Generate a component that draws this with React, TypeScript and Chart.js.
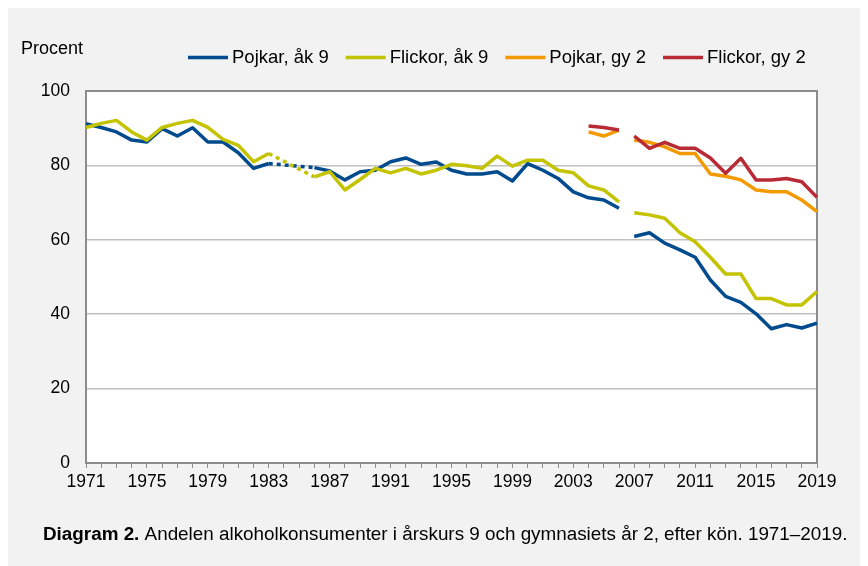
import React, { useEffect, useRef } from 'react';
import { Chart, registerables } from 'chart.js';

Chart.register(...registerables);

const years = [
  '1971', '1972', '1973', '1974', '1975', '1976', '1977', '1978', '1979', '1980',
  '1981', '1982', '1983', '1984', '1985', '1986', '1987', '1988', '1989', '1990',
  '1991', '1992', '1993', '1994', '1995', '1996', '1997', '1998', '1999', '2000',
  '2001', '2002', '2003', '2004', '2005', '2006', '2007', '2008', '2009', '2010',
  '2011', '2012', '2013', '2014', '2015', '2016', '2017', '2018', '2019',
];

const pojkarAk9 = [
  91.2, 90.2, 89.0, 86.8, 86.3, 89.9, 87.9, 90.1, 86.3, 86.3,
  83.4, 79.2, 80.5, null, null, 79.4, 78.5, 76.1, 78.3, 78.7,
  81.0, 82.0, 80.3, 80.9, 78.7, 77.7, 77.7, 78.3, 75.8, 80.5,
  78.7, 76.5, 72.9, 71.3, 70.7, 68.5, 60.9, 61.9, 59.1, 57.3,
  55.3, 49.2, 44.8, 43.2, 40.1, 36.1, 37.2, 36.3, 37.6,
];

const flickorAk9 = [
  90.2, 91.3, 92.1, 89.0, 86.8, 90.2, 91.3, 92.1, 90.2, 87.0,
  85.4, 81.0, 83.2, null, null, 76.9, 78.3, 73.4, 76.2, 79.2,
  78.0, 79.2, 77.7, 78.7, 80.3, 79.9, 79.2, 82.5, 79.8, 81.4,
  81.4, 78.7, 78.0, 74.5, 73.4, 70.2, 67.3, 66.7, 65.8, 61.9,
  59.5, 55.3, 50.8, 50.8, 44.2, 44.2, 42.5, 42.5, 46.1,
];

const pojkarGy2 = [
  null, null, null, null, null, null, null, null, null, null,
  null, null, null, null, null, null, null, null, null, null,
  null, null, null, null, null, null, null, null, null, null,
  null, null, null, 89.0, 87.9, 89.5, 86.8, 86.2, 85.0, 83.2,
  83.2, 77.7, 77.1, 76.1, 73.4, 72.9, 72.9, 70.7, 67.6,
];

const flickorGy2 = [
  null, null, null, null, null, null, null, null, null, null,
  null, null, null, null, null, null, null, null, null, null,
  null, null, null, null, null, null, null, null, null, null,
  null, null, null, 90.6, 90.2, 89.5, 87.9, 84.6, 86.2, 84.6,
  84.6, 82.0, 77.9, 81.9, 76.1, 76.1, 76.5, 75.6, 71.4,
];

const seriesLabels = ['Pojkar, åk 9', 'Flickor, åk 9', 'Pojkar, gy 2', 'Flickor, gy 2'];
const seriesColors = ['#004b8d', '#c3c300', '#f39a00', '#b82a34'];
const seriesData = [pojkarAk9, flickorAk9, pojkarGy2, flickorGy2];

const breakYear = '2006';
const yAxisTitle = 'Procent';
const captionBold = 'Diagram 2.';
const captionText = ' Andelen alkoholkonsumenter i årskurs 9 och gymnasiets år 2, efter kön. 1971–2019.';

const FONT = '"Liberation Sans", Arial, sans-serif';
const FS = 17.5;
const FS_TEXT = 18.5;
const FS_CAPTION = 18.85;

const decorPlugin = {
  id: 'decor',
  beforeDraw(chart: any) {
    const { ctx, chartArea: a } = chart;
    ctx.save();
    ctx.fillStyle = '#f2f2f2';
    ctx.fillRect(0, 0, chart.width, chart.height);
    ctx.fillStyle = '#ffffff';
    ctx.fillRect(a.left, a.top, a.right - a.left, a.bottom - a.top);
    ctx.restore();
  },
  beforeDatasetsDraw(chart: any) {
    const { ctx, chartArea: a } = chart;
    ctx.save();
    ctx.strokeStyle = '#8c8c8c';
    ctx.lineWidth = 2;
    ctx.strokeRect(a.left, a.top, a.right - a.left, a.bottom - a.top);
    ctx.restore();
  },
  afterDraw(chart: any) {
    const { ctx } = chart;
    ctx.save();
    ctx.fillStyle = '#000000';
    ctx.textBaseline = 'middle';
    ctx.font = `18px ${FONT}`;
    ctx.fillText(yAxisTitle, 13, 41);

    // legend
    ctx.font = `${FS_TEXT}px ${FONT}`;
    let x = 180;
    const ly = 49.5;
    seriesLabels.forEach((lab, i) => {
      ctx.strokeStyle = seriesColors[i];
      ctx.lineWidth = 3.5;
      ctx.beginPath();
      ctx.moveTo(x, ly);
      ctx.lineTo(x + 40, ly);
      ctx.stroke();
      x += 44;
      ctx.fillStyle = '#000000';
      ctx.fillText(lab, x, ly);
      x += ctx.measureText(lab).width + 17;
    });

    // caption
    ctx.font = `bold ${FS_CAPTION}px ${FONT}`;
    ctx.fillText(captionBold, 35, 527);
    const bw = ctx.measureText(captionBold).width;
    ctx.font = `${FS_CAPTION}px ${FONT}`;
    ctx.fillText(captionText, 35 + bw, 527);
    ctx.restore();
  },
};

export default function App() {
  const ref = useRef<HTMLCanvasElement | null>(null);

  useEffect(() => {
    if (!ref.current) return;
    const skipped = (c: any, v: any) => (c.p0.skip || c.p1.skip ? v : undefined);
    const broken = (c: any, v: any) => (years[c.p0DataIndex] === breakYear ? v : undefined);
    const chart = new Chart(ref.current, {
      type: 'line',
      data: {
        labels: years,
        datasets: seriesData.map((d, i) => ({
          label: seriesLabels[i],
          data: d,
          borderColor: seriesColors[i],
          backgroundColor: seriesColors[i],
          borderWidth: 3.5,
          pointRadius: 0,
          pointHoverRadius: 0,
          tension: 0,
          spanGaps: true,
          borderJoinStyle: 'round',
          order: 3 - i,
          segment: {
            borderDash: (c: any) => skipped(c, [4, 4]),
            borderColor: (c: any) => broken(c, 'rgba(0,0,0,0)'),
          },
        })),
      },
      options: {
        responsive: false,
        animation: false,
        events: [],
        layout: { padding: { left: 0, right: 51, top: 83, bottom: 63 } },
        plugins: {
          legend: { display: false },
          tooltip: { enabled: false },
          title: { display: false },
        },
        scales: {
          x: {
            type: 'category',
            offset: false,
            afterFit: (s: any) => { s.height = 40; },
            border: { display: false },
            grid: {
              display: true,
              drawOnChartArea: false,
              drawTicks: true,
              tickLength: 5,
              color: '#8c8c8c',
              lineWidth: 1,
            },
            ticks: {
              autoSkip: false,
              maxRotation: 0,
              minRotation: 0,
              padding: 4,
              color: '#000000',
              font: { family: FONT, size: FS },
              callback: (_v: any, idx: number) => ((Number(years[idx]) - 1971) % 4 === 0 ? years[idx] : ''),
            },
          },
          y: {
            min: 0,
            max: 100,
            afterFit: (s: any) => { s.width = 78; },
            border: { display: false },
            grid: {
              color: '#c0c0c0',
              lineWidth: 1.5,
              drawTicks: false,
            },
            ticks: {
              stepSize: 20,
              padding: 16,
              color: '#000000',
              font: { family: FONT, size: FS },
            },
          },
        },
      },
      plugins: [decorPlugin],
    } as any);
    return () => chart.destroy();
  }, []);

  return (
    <div style={{ width: 860, height: 558, background: '#f2f2f2' }}>
      <canvas ref={ref} width={860} height={558} style={{ display: 'block', width: 860, height: 558 }} />
    </div>
  );
}
